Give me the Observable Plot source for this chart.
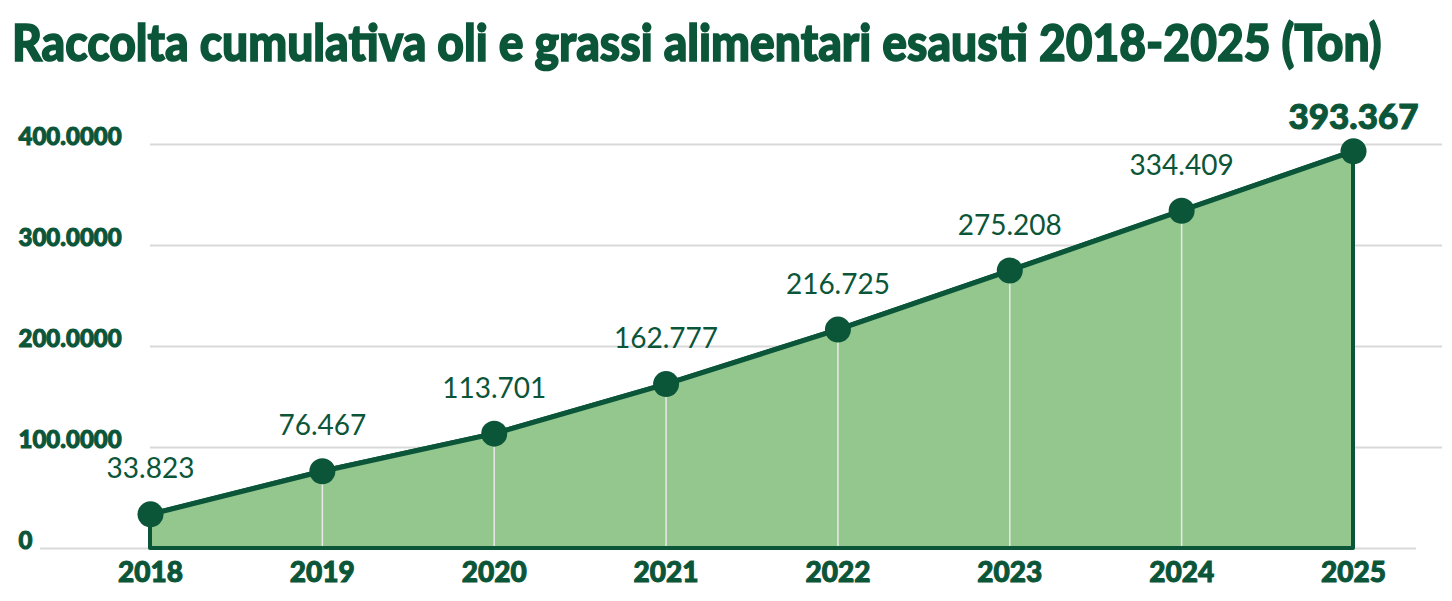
<!DOCTYPE html>
<html>
<head>
<meta charset="utf-8">
<script src="https://cdn.jsdelivr.net/npm/d3@7"></script>
<script src="https://cdn.jsdelivr.net/npm/@observablehq/plot@0.6"></script>
<style>
  html, body { margin: 0; padding: 0; background: #fff; }
  #title { height: 90px; box-sizing: border-box; padding-left: 12px; font-family: Lato, sans-serif; font-weight: 900; color: #0b5539; line-height: 1; white-space: nowrap; -webkit-text-stroke: 1.4px #0b5539; }
  #title span { display: inline-block; transform-origin: 0 100%; transform: scaleY(1.12); }
  #chart svg { display: block; }
  .heavy text { paint-order: stroke; stroke: #0b5539; stroke-width: 1px; }
</style>
</head>
<body>
<div id="title"><span id="tt">Raccolta cumulativa oli e grassi alimentari esausti 2018-2025 (Ton)</span></div>
<div id="chart"></div>
<script>
const years = [2018, 2019, 2020, 2021, 2022, 2023, 2024, 2025];
const values = [33823, 76467, 113701, 162777, 216725, 275208, 334409, 393367];
const valueLabels = ["33.823", "76.467", "113.701", "162.777", "216.725", "275.208", "334.409", "393.367"];
const yTicks = [0, 100000, 200000, 300000, 400000];
const yTickLabels = ["0", "100.0000", "200.0000", "300.0000", "400.0000"];

const dark = "#0b5539";
const fillGreen = "#93c78e";
const gridGray = "#d9d9d9";

const data = years.map((year, i) => ({year, value: values[i], label: valueLabels[i]}));

// fit title
const tt = document.getElementById("tt");
let fs = 40;
tt.style.fontSize = fs + "px";
const w = tt.getBoundingClientRect().width;
fs = fs * 1370 / w;
tt.style.fontSize = fs + "px";
document.getElementById("title").style.paddingTop = (62 - 0.887 * fs) + "px";

const chart = Plot.plot({
  width: 1452,
  height: 511,
  marginLeft: 150,
  marginRight: 99,
  marginTop: 54,
  marginBottom: 53,
  style: {fontFamily: "Lato, sans-serif", color: dark, background: "white"},
  x: {domain: [2018, 2025], ticks: years},
  y: {domain: [0, 400000]},
  marks: [
    Plot.ruleY(yTicks.slice(1), {stroke: gridGray, strokeWidth: 2, insetRight: -89}),
    Plot.ruleY([0], {stroke: gridGray, strokeWidth: 2, insetLeft: -110, insetRight: -63}),
    Plot.areaY(data, {x: "year", y: "value", fill: fillGreen}),
    Plot.ruleX(data.slice(1, -1), {x: "year", y1: 0, y2: "value", stroke: "#e8e8e8", strokeWidth: 1.5}),
    Plot.areaY(data, {x: "year", y: "value", fill: "none", stroke: dark, strokeWidth: 4}),
    Plot.line(data, {x: "year", y: "value", stroke: dark, strokeWidth: 5}),
    Plot.dot(data, {x: "year", y: "value", r: 13, fill: dark}),
    Plot.text(data.slice(0, -1), {x: "year", y: "value", text: "label", dy: -45, fontSize: 28, fill: dark}),
    Plot.text(data.slice(-1), {x: "year", y: "value", text: "label", dy: -33, fontSize: 35, fontWeight: 900, fill: dark, className: "heavy"}),
    Plot.axisY({ticks: yTicks, tickFormat: d => yTickLabels[yTicks.indexOf(d)], tickSize: 0, tickPadding: 132, textAnchor: "start", dy: -7, fontSize: 24, fontWeight: 900, fill: dark, label: null, className: "heavy"}),
    Plot.axisX({ticks: years, tickFormat: d => String(d), tickSize: 0, tickPadding: 14, fontSize: 28, fontWeight: 900, fill: dark, label: null, className: "heavy"})
  ]
});
document.getElementById("chart").appendChild(chart);
</script>
</body>
</html>
